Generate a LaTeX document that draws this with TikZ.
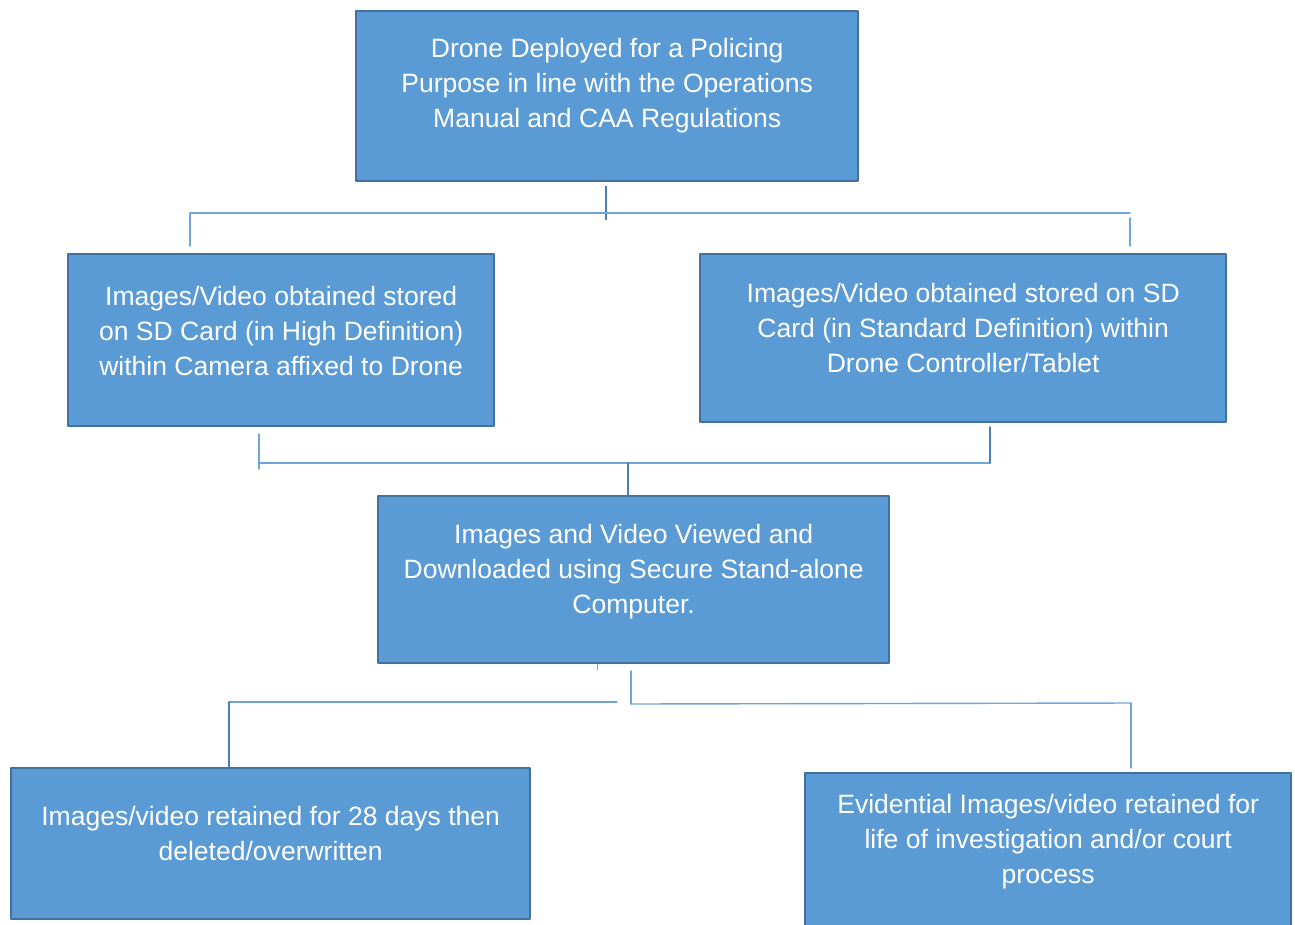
\documentclass[tikz,border=0pt]{standalone}
\usepackage{fontspec}
\setmainfont{Liberation Sans}
\usetikzlibrary{positioning}
\definecolor{boxfill}{HTML}{5B9BD5}
\definecolor{boxline}{HTML}{41719C}
\definecolor{linkblue}{HTML}{6FA5DB}
\definecolor{trunkblue}{HTML}{4A7EBB}
\begin{document}
\begin{tikzpicture}[line cap=round,line join=round,x=0.02cm,y=-0.02cm,
  box/.style={draw=boxline,fill=boxfill,line width=1.4pt,anchor=north west,inner sep=0pt},
  txt/.style={text=white,align=center,inner sep=0pt,font=\fontsize{15.1}{19.9}\selectfont},
  link/.style={draw=linkblue,line width=0.8pt},
  trunk/.style={draw=trunkblue,line width=0.9pt}]
\useasboundingbox (0,0) rectangle (1295,924);
% boxes
\node[box,minimum width=10.04cm,minimum height=3.40cm] (deploy) at (355,10) {};
\node[box,minimum width=8.52cm,minimum height=3.44cm] (hd) at (67,253) {};
\node[box,minimum width=10.52cm,minimum height=3.36cm] (sd) at (699,253) {};
\node[box,minimum width=10.22cm,minimum height=3.34cm] (pc) at (377,495) {};
\node[box,minimum width=10.38cm,minimum height=3.02cm] (del) at (10,767) {};
\node[box,minimum width=9.72cm,minimum height=3.20cm] (evid) at (804,772) {};
% texts
\node[txt,yshift=0.22cm] (deployT) at (deploy.center) {Drone Deployed for a Policing\\Purpose in line with the Operations\\Manual and CAA Regulations};
\node[txt,yshift=0.18cm] (hdT) at (hd.center) {Images/Video obtained stored\\on SD Card (in High Definition)\\within Camera affixed to Drone};
\node[txt,yshift=0.20cm] (sdT) at (sd.center) {Images/Video obtained stored on SD\\Card (in Standard Definition) within\\Drone Controller/Tablet};
\node[txt,yshift=0.17cm] (pcT) at (pc.center) {Images and Video Viewed and\\Downloaded using Secure Stand-alone\\Computer.};
\node[txt,yshift=0.20cm] (delT) at (del.center) {Images/video retained for 28 days then\\deleted/overwritten};
\node[txt,yshift=0.24cm] (evidT) at (evid.center) {Evidential Images/video retained for\\life of investigation and/or court\\process};
% top split
\coordinate (tL) at (190,213);
\coordinate (tR) at (1130,213);
\draw[trunk] (deploy.south) ++(-1,4) -- ++(0,33);
\draw[link] (tL) -- (tR);
\draw[link] (tL) -- ++(0,33);
\draw[link] (tR) ++(0,5) -- ++(0,28);
% middle merge
\coordinate (mL) at (260,463);
\coordinate (mR) at (990,463);
\coordinate (mC) at (628,463);
\draw[link] (mL) ++(-1,-29) -- ++(0,35);
\draw[link] (mL) -- (mR);
\draw[trunk] (mR) -- ++(0,-36);
\draw[trunk] (mC) -- (mC |- pc.north);
% bottom split
\coordinate (bL) at (229,702);
\coordinate (bM) at (617,702);
\coordinate (bC) at (631,704);
\coordinate (bR) at (1131,703);
\draw[link] (pc.south) ++(-36,0) -- ++(0,5);
\draw[link] (bC) ++(0,-33) -- (bC);
\draw[link] (bL) -- (bM);
\draw[link] (bC) -- (bR);
\draw[trunk] (bL) -- (bL |- del.north);
\draw[link] (bR) -- ++(0,65);
\end{tikzpicture}
\end{document}
